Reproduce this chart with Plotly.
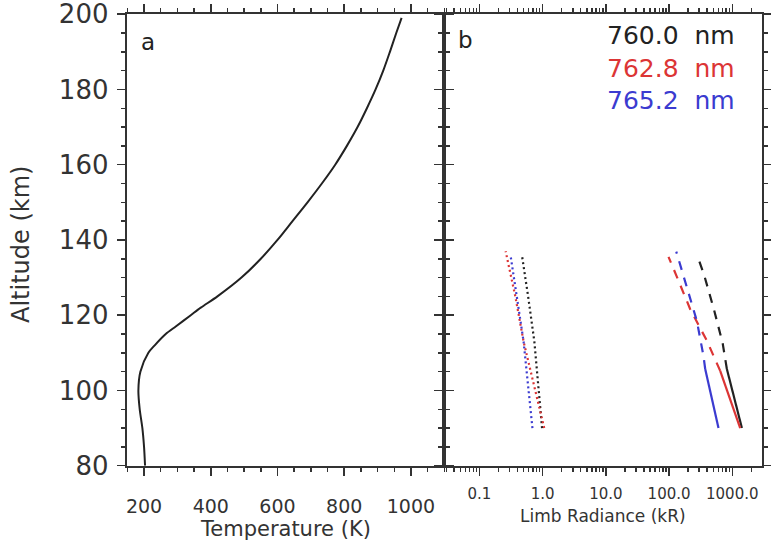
import plotly.graph_objects as go

# ---------------- data ----------------
# Panel a: temperature profile
temp_alt = [80, 85, 90, 95, 100, 105, 110, 112, 115, 117, 120, 122, 125, 130, 135, 140, 145, 150, 155, 160, 165, 170, 175, 180, 185, 190, 195, 199]
temp_K   = [203, 200, 195, 187, 183, 189, 213, 232, 265, 295, 340, 370, 420, 492, 550, 600, 645, 690, 733, 773, 808, 840, 868, 894, 917, 937, 956, 972]

# Panel b: limb radiance (kR)
dot_alt_black = [90, 100, 113, 125, 136]
dot_val_black = [0.98, 0.87, 0.74, 0.59, 0.47]
dot_alt_red   = [90, 100, 113, 125, 137]
dot_val_red   = [1.06, 0.77, 0.50, 0.37, 0.26]
dot_alt_blue  = [90, 100, 113, 125, 136]
dot_val_blue  = [0.69, 0.60, 0.50, 0.39, 0.31]

sol_alt_black = [90, 105.7]
sol_val_black = [1419, 821]
sol_alt_red   = [90, 105.2]
sol_val_red   = [1334, 644]
sol_alt_blue  = [90, 105.7]
sol_val_blue  = [605, 373]

dash_alt_black = [105.7, 112.5, 121.3, 130.6, 136.2]
dash_val_black = [821, 705, 517, 360, 275]
dash_alt_red   = [105.2, 108.3, 113.2, 116.9, 121.6, 130.2, 135.5]
dash_val_red   = [644, 537, 397, 303, 216, 133, 98]
dash_alt_blue  = [105.7, 109.2, 118.5, 127.8, 136.9]
dash_val_blue  = [373, 350, 275, 191, 130]

legend_labels = ["760.0 nm", "762.8 nm", "765.2 nm"]

temp_ticks = [200, 400, 600, 800, 1000]
alt_ticks = [80, 100, 120, 140, 160, 180, 200]
rad_ticks = [0.1, 1, 10, 100, 1000]
rad_ticktext = ["0.1", "1.0", "10.0", "100.0", "1000.0"]
rad_minor = [m * 10.0 ** e for e in range(-2, 4) for m in range(2, 10)]

# ---------------- styling ----------------
FONT = "DejaVu Sans"
AX = "#333333"
BLACK = "#222222"
RED = "#dc3535"
BLUE = "#3b3bd0"

W, H = 771, 544


def px(x):
    return x / W


def py(y):
    return (H - y) / H


fig = go.Figure()

fig.add_trace(go.Scatter(x=temp_K, y=temp_alt, mode="lines",
                         line=dict(color=BLACK, width=2, shape="spline", smoothing=0.8),
                         xaxis="x", yaxis="y", showlegend=False))

series = [
    (dot_val_black, dot_alt_black, BLACK, "2px,3px"),
    (dot_val_red, dot_alt_red, RED, "2px,3px"),
    (dot_val_blue, dot_alt_blue, BLUE, "2px,3px"),
    (dash_val_black, dash_alt_black, BLACK, "9px,8px"),
    (dash_val_red, dash_alt_red, RED, "9px,8px"),
    (dash_val_blue, dash_alt_blue, BLUE, "9px,8px"),
    (sol_val_black, sol_alt_black, BLACK, "solid"),
    (sol_val_red, sol_alt_red, RED, "solid"),
    (sol_val_blue, sol_alt_blue, BLUE, "solid"),
]
for xv, yv, col, dash in series:
    fig.add_trace(go.Scatter(x=xv, y=yv, mode="lines", line=dict(color=col, width=2.2, dash=dash),
                             xaxis="x2", yaxis="y2", showlegend=False))

axis_common = dict(showline=True, linecolor=AX, linewidth=2, mirror="ticks", ticks="outside",
                   tickcolor=AX, tickwidth=1.5, ticklen=8, showgrid=False, zeroline=False,
                   automargin=False, ticklabeloverflow="allow")
minor_common = dict(ticks="outside", ticklen=4, tickcolor=AX, tickwidth=1.5, showgrid=False)

xl = px(126.7)
xm = px(444.3)
xr = px(762.0)
yb = py(465.7)
yt = py(14)

fig.update_layout(
    width=W, height=H,
    margin=dict(l=0, r=0, t=0, b=0, autoexpand=False),
    paper_bgcolor="white", plot_bgcolor="white",
    font=dict(family=FONT, color=AX),
    hovermode=False,
    xaxis=dict(axis_common, domain=[xl, xm], range=[148, 1100], tickvals=temp_ticks, anchor="y",
               tickfont=dict(size=19, color=AX), ticklabelstandoff=14,
               minor=dict(minor_common, dtick=50, tick0=0)),
    yaxis=dict(axis_common, domain=[yb, yt], range=[80, 200.05], tickvals=alt_ticks, anchor="x",
               tickfont=dict(size=26, color=AX), ticklabelstandoff=3,
               minor=dict(minor_common, dtick=5, tick0=0)),
    xaxis2=dict(axis_common, domain=[xm, xr], type="log", range=[-1.555, 3.47], anchor="y2",
                tickvals=rad_ticks, ticktext=rad_ticktext,
                tickfont=dict(size=15, color=AX), ticklabelstandoff=5,
                minor=dict(minor_common, tickvals=rad_minor)),
    yaxis2=dict(axis_common, domain=[yb, yt], range=[80, 200.05], tickvals=alt_ticks, showticklabels=False,
                anchor="x2",
                minor=dict(minor_common, dtick=5, tick0=0)),
)

ann = []
ann.append(dict(x=px(285.5), y=py(529), text="Temperature (K)", font=dict(size=21, color=AX)))
ann.append(dict(x=px(603), y=py(516), text="Limb Radiance (kR)", font=dict(size=17, color=AX)))
ann.append(dict(x=px(21), y=py(245), text="Altitude (km)", textangle=-90, font=dict(size=24, color=AX)))
ann.append(dict(x=px(148), y=py(42), text="a", font=dict(size=23, color=BLACK)))
ann.append(dict(x=px(465), y=py(40), text="b", font=dict(size=23, color=BLACK)))
for lab, col, yy in zip(legend_labels, [BLACK, RED, BLUE], [35, 68, 100]):
    ann.append(dict(x=px(737), y=py(yy), text=lab.replace(" ", "&nbsp;&nbsp;"), xanchor="right",
                    font=dict(size=25, color=col)))
for a in ann:
    a.setdefault("xanchor", "center")
    a.update(xref="paper", yref="paper", yanchor="middle", showarrow=False)
fig.update_layout(annotations=ann)

# remove the default 8px page margin so the figure fills the window exactly
fig.write_html("out.html",
               config={"displayModeBar": False, "staticPlot": True},
               post_script="document.body.style.margin='0';document.body.style.padding='0';")
